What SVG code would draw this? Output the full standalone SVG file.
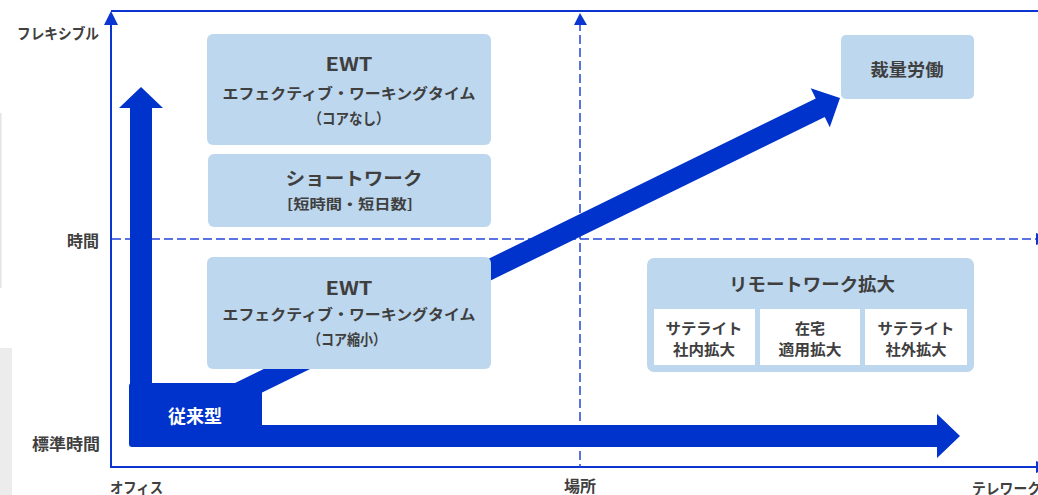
<svg xmlns="http://www.w3.org/2000/svg" width="1038" height="495" viewBox="0 0 1038 495">
<style>
.lbl{font-family:"Noto Sans CJK JP","Noto Sans",sans-serif;font-weight:700;fill:#404040;dominant-baseline:central}
.bt{font-family:"Noto Sans CJK JP","Noto Sans",sans-serif;font-weight:700;fill:#3f3f3f;text-anchor:middle;dominant-baseline:central}
.box{fill:#bdd7ee}
.sub{fill:#ffffff}
.axis{stroke:#0a35d0;stroke-width:2;fill:none}
.dash{stroke:#2446d8;stroke-width:1.5;fill:none;stroke-dasharray:9 4}
.big{fill:#0033cc}
.head{fill:#0a35d0}
</style>
<rect x="0" y="0" width="1038" height="495" fill="#ffffff"/>
<rect x="0" y="113" width="1.5" height="175" fill="#e4e4e4"/>
<rect x="0" y="348" width="12" height="147" fill="#ececec"/>

<g id="connectors">
  <line class="axis" x1="111" y1="11" x2="1038" y2="11" stroke-width="1.5"/>
  <line class="axis" x1="111" y1="20" x2="111" y2="467"/>
  <polygon class="head" points="111,11 104,25 118,25"/>
  <line class="axis" x1="110" y1="467" x2="1037" y2="467"/>
  <polygon class="head" points="1036,461 1050,467 1036,473"/>
  <line class="dash" x1="580" y1="22" x2="580" y2="467"/>
  <polygon class="head" points="580,13 574,25 587,25"/>
  <line class="dash" x1="112" y1="239" x2="1036" y2="239"/>
  <polygon class="head" points="1036,233 1050,239 1036,245"/>
  <polygon class="big" points="141,87 163,108 152,108 152,390 130,390 130,108 119,108"/>
  <polygon class="big" transform="translate(840,98) rotate(-26.1)" points="0,0 -22,-21.7 -22,-10.25 -680,-10.25 -680,10.25 -22,10.25 -22,21.7"/>
  <polygon class="big" points="250,425 937,425 937,414 960,436 937,458 937,447 250,447"/>
</g>

<g id="node-conventional">
  <rect class="big" x="129" y="383" width="133" height="64" rx="3"/>
  <text x="195" y="415" font-family="Noto Sans CJK JP, sans-serif" font-weight="700" font-size="18" fill="#ffffff" text-anchor="middle" dominant-baseline="central">従来型</text>
</g>

<g id="axis-labels">
  <text class="lbl" x="99" y="32" font-size="15" text-anchor="end" textLength="82" lengthAdjust="spacingAndGlyphs">フレキシブル</text>
  <text class="lbl" x="99" y="240" font-size="16" text-anchor="end">時間</text>
  <text class="lbl" x="100" y="443" font-size="16" text-anchor="end" textLength="68" lengthAdjust="spacingAndGlyphs">標準時間</text>
  <text class="lbl" x="110" y="486" font-size="15" textLength="53" lengthAdjust="spacingAndGlyphs">オフィス</text>
  <text class="lbl" x="580" y="485" font-size="16" text-anchor="middle">場所</text>
  <text class="lbl" x="972" y="487" font-size="15" textLength="69" lengthAdjust="spacingAndGlyphs">テレワーク</text>
</g>

<g id="node-ewt-nocore">
  <rect class="box" x="207" y="34" width="284" height="111" rx="6"/>
  <text class="bt" x="349" y="63" font-size="18" textLength="47" lengthAdjust="spacingAndGlyphs">EWT</text>
  <text class="bt" x="349" y="92" font-size="15" textLength="253" lengthAdjust="spacingAndGlyphs">エフェクティブ・ワーキングタイム</text>
  <text class="bt" x="349" y="117" font-size="15" textLength="81" lengthAdjust="spacingAndGlyphs">（コアなし）</text>
</g>

<g id="node-shortwork">
  <rect class="box" x="208" y="154" width="283" height="73" rx="6"/>
  <text class="bt" x="354" y="177" font-size="18" textLength="137" lengthAdjust="spacingAndGlyphs">ショートワーク</text>
  <text class="bt" x="350" y="203" font-size="14" textLength="126" lengthAdjust="spacingAndGlyphs">[短時間・短日数]</text>
</g>

<g id="node-ewt-shortcore">
  <rect class="box" x="207" y="257" width="284" height="112" rx="6"/>
  <text class="bt" x="349" y="287" font-size="18" textLength="47" lengthAdjust="spacingAndGlyphs">EWT</text>
  <text class="bt" x="349" y="313" font-size="15" textLength="253" lengthAdjust="spacingAndGlyphs">エフェクティブ・ワーキングタイム</text>
  <text class="bt" x="347" y="338" font-size="15" textLength="78" lengthAdjust="spacingAndGlyphs">（コア縮小）</text>
</g>

<g id="node-discretionary">
  <rect class="box" x="841" y="35" width="133" height="64" rx="5"/>
  <text class="bt" x="907" y="68" font-size="17" textLength="73" lengthAdjust="spacingAndGlyphs">裁量労働</text>
</g>

<g id="node-remote">
  <rect class="box" x="647" y="258" width="327" height="114" rx="7"/>
  <text class="bt" x="812" y="283" font-size="18" textLength="166" lengthAdjust="spacingAndGlyphs">リモートワーク拡大</text>
  <rect class="sub" x="654" y="309" width="101" height="56"/>
  <rect class="sub" x="760" y="309" width="100" height="56"/>
  <rect class="sub" x="865" y="309" width="102" height="56"/>
  <text class="bt" x="704" y="327" font-size="15" textLength="77" lengthAdjust="spacingAndGlyphs">サテライト</text>
  <text class="bt" x="704" y="348" font-size="15" textLength="62" lengthAdjust="spacingAndGlyphs">社内拡大</text>
  <text class="bt" x="810" y="327" font-size="15">在宅</text>
  <text class="bt" x="810" y="348" font-size="15" textLength="63" lengthAdjust="spacingAndGlyphs">適用拡大</text>
  <text class="bt" x="916" y="327" font-size="15" textLength="77" lengthAdjust="spacingAndGlyphs">サテライト</text>
  <text class="bt" x="916" y="348" font-size="15" textLength="61" lengthAdjust="spacingAndGlyphs">社外拡大</text>
</g>
</svg>
